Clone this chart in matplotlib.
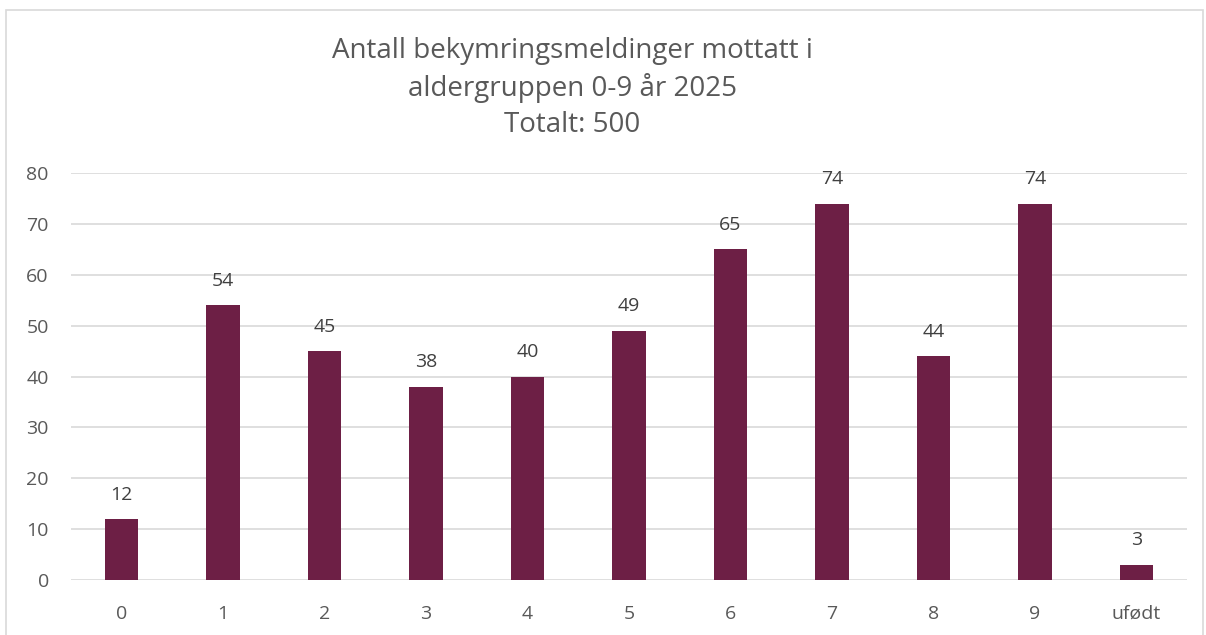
import matplotlib
matplotlib.use("Agg")
import matplotlib.pyplot as plt
from matplotlib.patches import Rectangle

categories = ["0", "1", "2", "3", "4", "5", "6", "7", "8", "9", "ufødt"]
counts = [12, 54, 45, 38, 40, 49, 65, 74, 44, 74, 3]
yticks = [0, 10, 20, 30, 40, 50, 60, 70, 80]

BAR = "#6d1f45"
TXT = "#595959"
GRID = "#d9d9d9"

plt.rcParams["font.family"] = ["Open Sans", "DejaVu Sans"]

fig = plt.figure(figsize=(12.06, 6.35), dpi=100, facecolor="white")
ax = fig.add_axes([71/1206, 55/635, 1116/1206, 407/635])

x = list(range(len(categories)))
bars = ax.bar(x, counts, width=0.33, color=BAR, zorder=3)
for b, v in zip(bars, counts):
    ax.text(b.get_x() + b.get_width()/2, v + 3, str(v), ha="center", va="bottom",
            color="#404040", fontsize=14)

ax.set_xlim(-0.5, len(categories) - 0.5)
ax.set_ylim(0, 80)
ax.set_yticks(yticks)
ax.set_xticks(x)
ax.set_xticklabels(categories)
ax.tick_params(axis="both", length=0, colors=TXT, labelsize=14)
ax.tick_params(axis="y", pad=16)
ax.tick_params(axis="x", pad=18)
ax.grid(axis="y", color=GRID, lw=1.2, zorder=0)
for sp in ax.spines.values():
    sp.set_visible(False)

fig.text(572/1206, 1 - 88/635, "Antall bekymringsmeldinger mottatt i\naldergruppen 0-9 år 2025\nTotalt: 500",
         ha="center", va="center", color=TXT, fontsize=20, linespacing=1.38)

fig.patches.append(Rectangle((6/1206, -0.01), 1197/1206, 1 - 10/635 + 0.01,
                             transform=fig.transFigure, fill=False, edgecolor=GRID, lw=1.2))

fig.savefig("out.png", dpi=100)
